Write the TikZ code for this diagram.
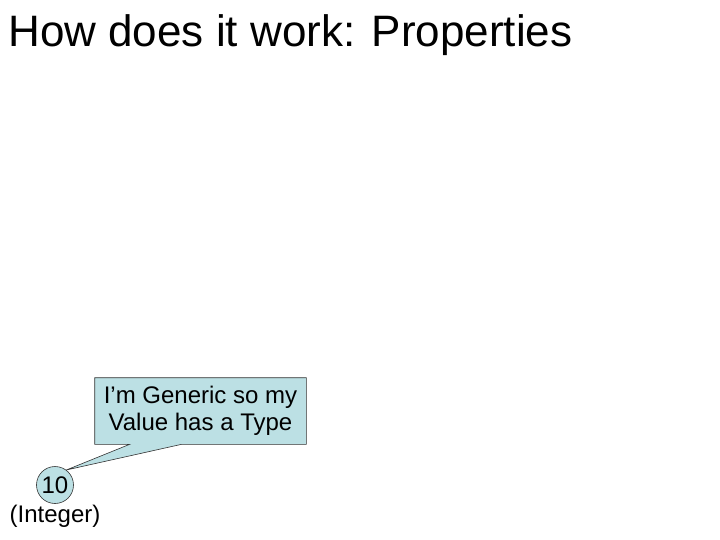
\documentclass[tikz,border=0pt]{standalone}
\usepackage{fontspec}
\setmainfont{Liberation Sans}
\usepackage{xcolor}
\usetikzlibrary{calc}
\usetikzlibrary{positioning}
\definecolor{calloutblue}{RGB}{188,224,228}

\begin{document}
\begin{tikzpicture}[x=1pt,y=-1pt,semithick]
	\tikzstyle{heading}=[anchor=base west, inner sep=0pt, font=\fontsize{44}{50}\selectfont]
	\tikzstyle{talk}=[inner sep=0pt, minimum width=211pt, minimum height=66pt, align=center, font=\fontsize{24}{26.7}\selectfont]
	\tikzstyle{val}=[draw=black!80, fill=calloutblue, circle, inner sep=0pt, minimum size=37pt, font=\fontsize{24}{26}\selectfont]
	\useasboundingbox (0,0) rectangle (720,540);
	\node[heading] (title) at (8,47) {How does it work: Properties};
	\node[val] (ten) at (55,485) {10};
	\node[inner sep=0pt, font=\fontsize{24}{26}\selectfont] (type) [below=1pt of ten] {(Integer)};
	\node[talk] (box) at (200.5,411) {};
	\coordinate (baseL) at ($(box.south west)+(35,0)$);
	\coordinate (baseR) at ($(box.south west)+(87,0)$);
	% callout outline with its pointer
	\filldraw[draw=black!80, fill=calloutblue, line join=miter]
		(box.north west) -- (box.north east) -- (box.south east) -- (baseR)
		-- (ten.53) -- (baseL) -- (box.south west) -- cycle;
	\node[talk] at (box.center) {I’m Generic so my\\Value has a Type};
\end{tikzpicture}
\end{document}
